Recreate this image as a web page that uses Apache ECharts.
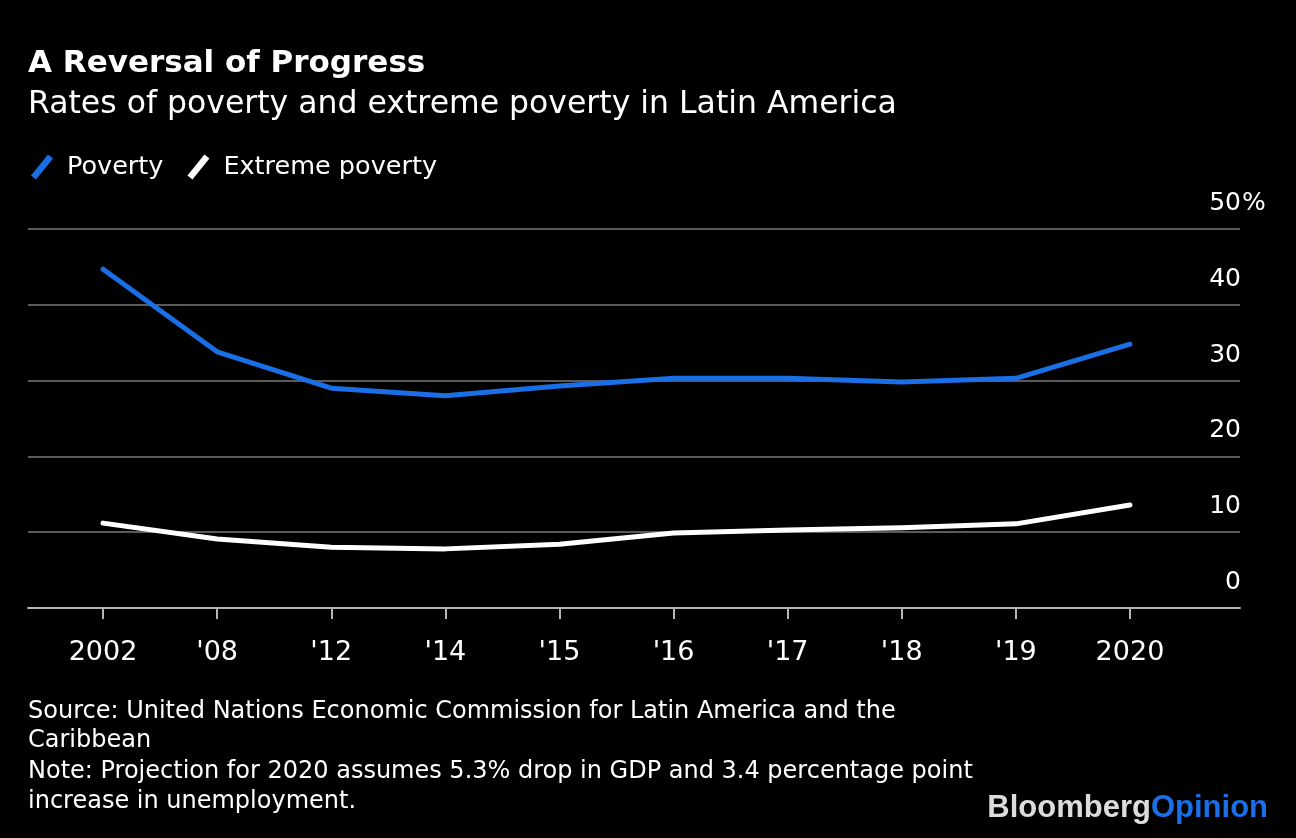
<!DOCTYPE html>
<html>
<head>
<meta charset="utf-8">
<script src="https://cdn.jsdelivr.net/npm/echarts@6/dist/echarts.min.js"></script>
<style>
html,body{margin:0;padding:0;background:#000;}
#c{width:1296px;height:838px;}
</style>
</head>
<body>
<div id="c"></div>
<script>
const categories = ['2002', "'08", "'12", "'14", "'15", "'16", "'17", "'18", "'19", '2020'];
const poverty = [44.7, 33.8, 29.0, 28.0, 29.3, 30.3, 30.3, 29.8, 30.3, 34.8];
const extremePoverty = [11.2, 9.1, 8.0, 7.8, 8.4, 9.9, 10.3, 10.6, 11.1, 13.6];
const yTicks = [0, 10, 20, 30, 40, 50];

const FONT = '"DejaVu Sans", "Liberation Sans", Arial, sans-serif';
const LOGOFONT = '"Liberation Sans", Arial, sans-serif';
const BLUE = '#1a6ee6';
const chart = echarts.init(document.getElementById('c'), null, {renderer: 'canvas'});

const slash = 'path://M0,21 L17,0 L22,4 L5,25 Z';

chart.setOption({
  backgroundColor: '#000',
  animation: false,
  title: [
    {text: 'A Reversal of Progress', left: 28, top: 48, padding: 0,
     textStyle: {color: '#fff', fontFamily: FONT, fontWeight: 'bold', fontSize: 31}},
    {text: 'Rates of poverty and extreme poverty in Latin America', left: 28, top: 89, padding: 0,
     textStyle: {color: '#fff', fontFamily: FONT, fontWeight: 'normal', fontSize: 31.5}}
  ],
  legend: {
    left: 26, top: 149, itemWidth: 22, itemHeight: 25, itemGap: 24,
    icon: slash,
    textStyle: {color: '#fff', fontFamily: FONT, fontSize: 25.5, padding: [0, 0, 0, 9]},
    data: [
      {name: 'Poverty', itemStyle: {color: BLUE}},
      {name: 'Extreme poverty', itemStyle: {color: '#fff'}}
    ]
  },
  grid: [
    {left: 28, right: 56, top: 229, bottom: 230},
    {left: 46, right: 109, top: 229, bottom: 230}
  ],
  xAxis: [
    {type: 'category', gridIndex: 0, data: categories, boundaryGap: true,
     axisLine: {show: true, lineStyle: {color: '#b4b4b4', width: 2}},
     axisTick: {show: false}, axisLabel: {show: false}, splitLine: {show: false}},
    {type: 'category', gridIndex: 1, data: categories, boundaryGap: true,
     axisLine: {show: false},
     axisTick: {show: true, alignWithLabel: true, length: 11, lineStyle: {color: '#b4b4b4', width: 2}},
     axisLabel: {color: '#fff', fontFamily: FONT, fontSize: 27, margin: 31, interval: 0}}
  ],
  yAxis: [
    {type: 'value', gridIndex: 0, position: 'right', min: 0, max: 50, interval: 10,
     axisLine: {show: false}, axisTick: {show: false},
     splitLine: {show: true, lineStyle: {color: '#5a5a5a', width: 2}},
     axisLabel: {inside: true, margin: -1, align: 'right', verticalAlign: 'bottom',
       padding: [0, 0, 13, 0],
       color: '#fff', fontFamily: FONT, fontSize: 25,
       formatter: function (v) { return yTicks.indexOf(v) >= 0 ? String(v) : ''; }}},
    {type: 'value', gridIndex: 1, min: 0, max: 50, interval: 10, show: false}
  ],
  series: [
    {name: 'Poverty', type: 'line', xAxisIndex: 1, yAxisIndex: 1, data: poverty,
     symbol: 'none', lineStyle: {color: BLUE, width: 5, join: 'round', cap: 'round'},
     itemStyle: {color: BLUE}},
    {name: 'Extreme poverty', type: 'line', xAxisIndex: 1, yAxisIndex: 1, data: extremePoverty,
     symbol: 'none', lineStyle: {color: '#fff', width: 5, join: 'round', cap: 'round'},
     itemStyle: {color: '#fff'}}
  ],
  graphic: [
    {type: 'text', left: 1242, top: 191,
     style: {text: '%', fill: '#fff', font: '25px ' + FONT}},
    {type: 'text', left: 28, top: 697,
     style: {text: 'Source: United Nations Economic Commission for Latin America and the\nCaribbean',
       fill: '#fff', font: '24px ' + FONT, lineHeight: 29}},
    {type: 'text', left: 28, top: 757,
     style: {text: 'Note: Projection for 2020 assumes 5.3% drop in GDP and 3.4 percentage point\nincrease in unemployment.',
       fill: '#fff', font: '24px ' + FONT, lineHeight: 30}},
    {type: 'text', right: 28, top: 793,
     style: {rich: {
       b: {fill: '#dcdcdc', fontFamily: LOGOFONT, fontWeight: 'bold', fontSize: 31},
       o: {fill: BLUE, fontFamily: LOGOFONT, fontWeight: 'bold', fontSize: 31}
     }, text: '{b|Bloomberg}{o|Opinion}'}}
  ]
});
</script>
</body>
</html>
